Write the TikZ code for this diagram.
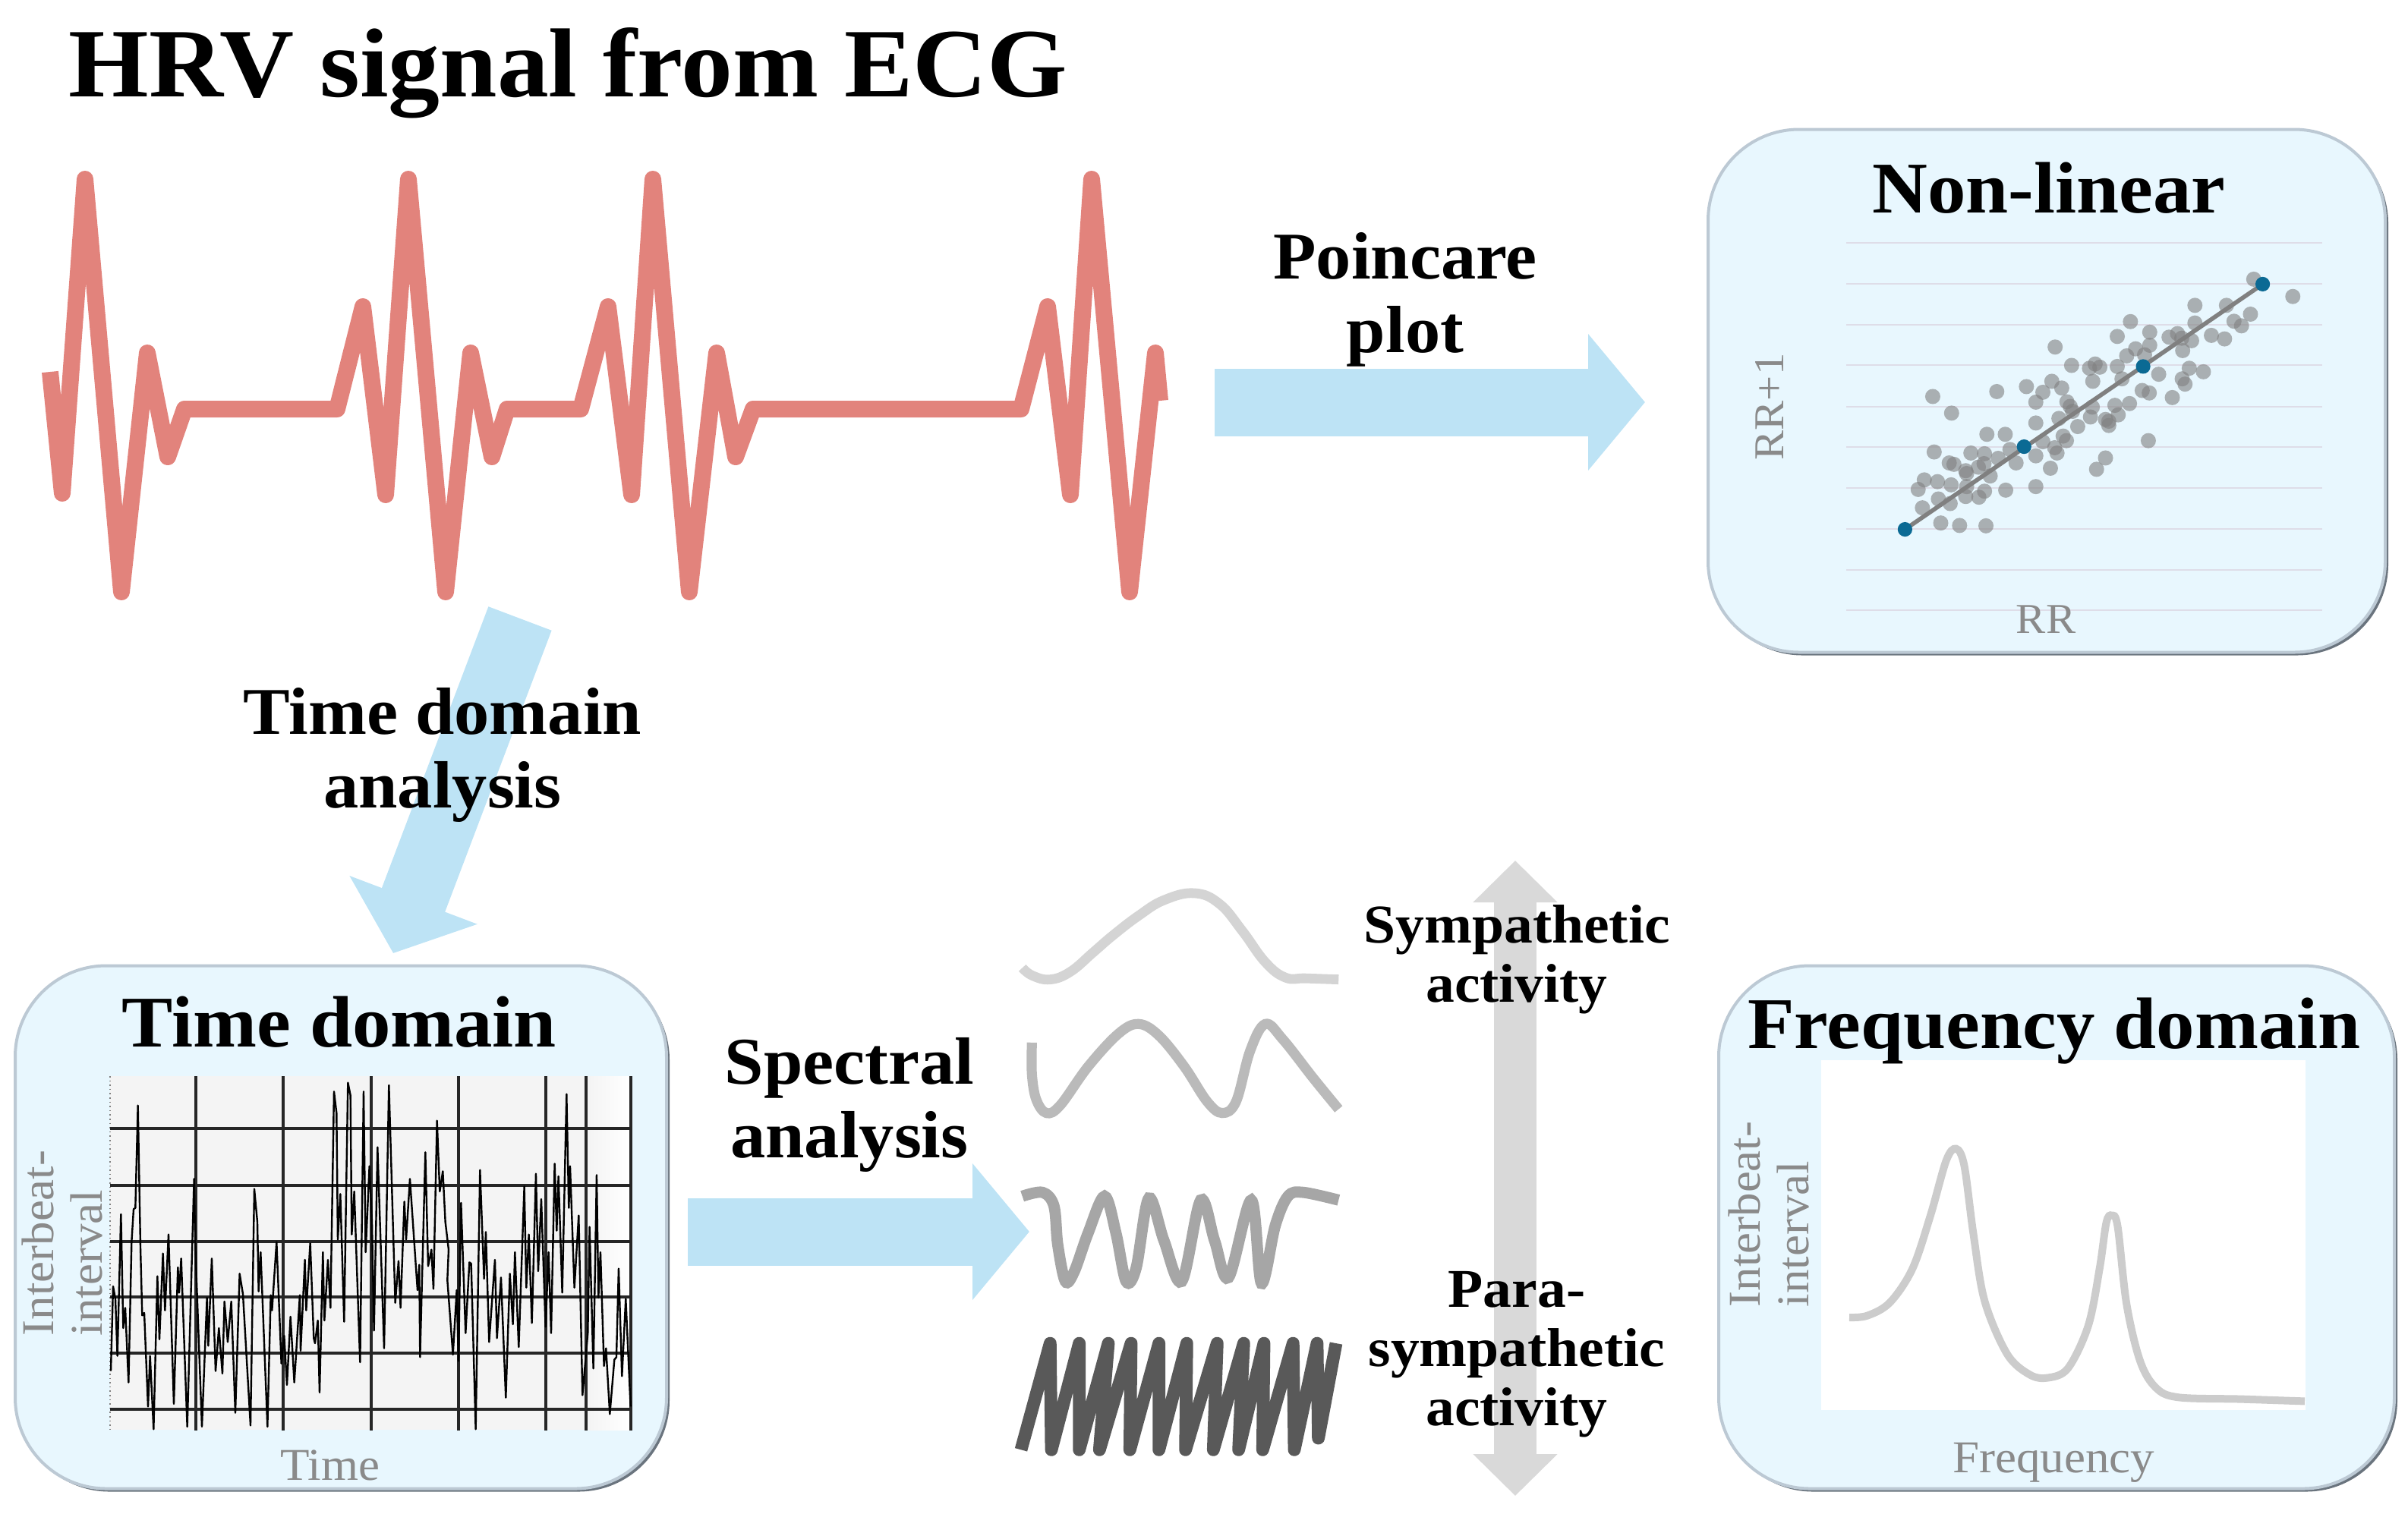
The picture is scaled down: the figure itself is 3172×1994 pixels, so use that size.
\documentclass[tikz,border=0pt]{standalone}
\usepackage{fontspec}
\setmainfont{Liberation Serif}[FakeStretch=1.05]
\usetikzlibrary{arrows.meta,shadows}

\definecolor{panelblue}{HTML}{E8F7FE}
\definecolor{panelrim}{HTML}{BCC9D4}
\definecolor{paneldark}{HTML}{6A747E}
\definecolor{flowblue}{HTML}{BDE3F5}
\definecolor{ecgred}{HTML}{E2837C}
\definecolor{axisgrey}{HTML}{8A8A8A}
\definecolor{plotgrey}{HTML}{F4F4F4}
\definecolor{rulelilac}{HTML}{DEDDE8}
\definecolor{dotblue}{HTML}{0B6A94}
\pgfdeclareverticalshading{panelbevel}{100bp}{color(0bp)=(panelblue); color(96.5bp)=(panelblue); color(100bp)=(white)}

\tikzset{
	panel/.style={rectangle,rounded corners=30pt,shade,shading=panelbevel,draw=panelrim,line width=1pt,
		minimum height=172.25pt,general shadow={fill=paneldark,shadow xshift=1pt,shadow yshift=-1pt}},
	heading/.style={font=\fontsize{24}{26}\selectfont\bfseries,anchor=base,inner sep=0pt},
	flowlabel/.style={font=\fontsize{22}{24.25}\selectfont\bfseries,align=center,inner sep=0pt},
	activity/.style={font=\fontsize{18}{19.5}\selectfont\bfseries,align=center,inner sep=0pt},
	axislabel/.style={font=\fontsize{15}{16}\selectfont,text=axisgrey,inner sep=0pt},
	flow/.style={flowblue,line width=22.25pt,-{Triangle[length=18.75pt,width=44pt]}},
	gridrule/.style={black!85,line width=0.8pt},
	dot/.style={fill=gray,opacity=0.6},
}

\begin{document}
\begin{tikzpicture}[x=0.25pt,y=-0.25pt]
	\useasboundingbox (0,0) rectangle (3172,1994);

	\node[font=\fontsize{32.3}{34}\selectfont\bfseries,anchor=base west,inner sep=0pt] (title) at (90,127) {HRV signal from ECG};

	% ECG trace
	\draw[ecgred,line width=5.5pt,line join=round]
		(66,490)--(82,650)--(112,236)--(160,780)--(194,465)--(221,602)--(243,539)--(444,539)
		--(478,404)--(508,652)--(538,236)--(587,780)--(620,465)--(648,602)--(668,539)--(765,539)
		--(801,404)--(832,652)--(860,236)--(908,780)--(944,465)--(969,602)--(992,539)--(1345,539)
		--(1380,404)--(1410,652)--(1438,236)--(1488,780)--(1522,465)--(1528,528);

	% panels
	\node[panel,minimum width=223pt] (nonlinear) at (2696,515) {};
	\node[panel,minimum width=214.5pt] (timedomain) at (449,1617) {};
	\node[panel,minimum width=222.5pt] (freqdomain) at (2709,1617) {};

	% flow arrows
	\coordinate (poincareStart) at (1600,530);
	\coordinate (poincareEnd) at (2167,530);
	\coordinate (timeStart) at (685,815);
	\coordinate (timeEnd) at (518,1256);
	\coordinate (spectralStart) at (906,1623);
	\coordinate (spectralEnd) at (1356,1623);
	\coordinate (activityTop) at (1996,1134);
	\coordinate (activityBottom) at (1996,1971);
	\draw[flow] (poincareStart) -- (poincareEnd);
	\draw[flow] (timeStart) -- (timeEnd);
	\draw[flow] (spectralStart) -- (spectralEnd);
	\draw[black!15,line width=14pt,{Triangle[length=13.75pt,width=27pt]}-{Triangle[length=13.75pt,width=27pt]}] (activityTop) -- (activityBottom);

	\node[flowlabel] (poincare) at (1851,395) {Poincare\\plot};
	\node[flowlabel] (timeanalysis) at (583,995) {Time domain\\analysis};
	\node[flowlabel] (spectral) at (1119,1456) {Spectral\\analysis};
	\node[activity] (sympathetic) at (1998,1264) {Sympathetic\\activity};
	\node[activity] (parasympathetic) at (1998,1785) {Para-\\sympathetic\\activity};

	% scatter plot
	\foreach \yy in {320,374,428,481,536,589,643,697,751,804}
		\draw[rulelilac,line width=0.6pt] (2432,\yy) -- (3059,\yy);
	\begin{scope}[shift={(2200,150)},x=0.155pt,y=-0.1164pt]
		\foreach \xx/\yy in {558/800,598/847,694/786,757/772,792/788,818/660,853/712,832/776,811/757,777/816,843/815,850/828,855/842,826/862,777/875,866/885,673/907,712/907,561/957,639/960,668/962,722/950,697/975,735/988,777/968,792/928,835/912,842/925,817/945,822/960,808/1003,777/1055,713/1065,593/988,603/992,628/1010,630/1018,655/1000,667/990,680/1025,540/1036,527/1063,568/1041,597/1050,630/1055,668/1068,656/1085,628/1083,570/1090,595/1103,536/1115,575/1158,615/1165,671/1166,906/1006,925/974,1016/925,932/870,932/882,925/865,893/858,897/830,945/825,952/852,976/820,960/750,898/757,891/720,903/708,913/717,950/715,970/685,989/665,1019/655,1019/618,950/630,978/588,1008/682,1038/737,1003/783,1018/790,1067/803,1088/750,1094/765,1103/720,1133/730,1089/670,1108/642,1087/635,1078/622,1060/632,1115/592,1115/542,1150/627,1178/637,1198/587,1214/600,1233/567,1182/542,1240/468,1323/517}
			\fill[dot] (\xx,\yy) circle[radius=2.5pt];
		\coordinate (trendLow) at (499,1176);
		\coordinate (trendHigh) at (1259,482);
		\draw[black!50,line width=1.4pt] (trendLow) -- (trendHigh);
		\foreach \xx/\yy in {499/1176,752/942,1005/715,1259/482}
			\fill[dotblue] (\xx,\yy) circle[radius=2.4pt];
	\end{scope}

	% interbeat trace
	\fill[plotgrey] (145,1418) rectangle (775,1884);
	\shade[left color=plotgrey,right color=white] (775,1418) rectangle (831,1884);
	\draw[gray,densely dotted,line width=0.4pt] (145,1418) -- (145,1884);
	\foreach \xx in {258,373,489,604,719,772,831}
		\draw[gridrule] (\xx,1418) -- (\xx,1885);
	\foreach \yy in {1487,1562,1636,1709,1783,1857}
		\draw[gridrule] (145,\yy) -- (831,\yy);
	\begin{scope}[shift={(140,1410)},x=0.08333pt,y=-0.08333pt]
		\draw[black,line width=0.6pt,line join=round] (18,1190)--(27,855)--(36,905)--(44,1130)--(58,570)--(67,1020)--(75,940)--(88,1235)--(100,680)--(108,550)--(115,545)--(125,140)--(135,700)--(142,970)--(150,960)--(165,1330)--(173,1130)--(187,1420)--(202,815)--(210,1065)--(224,725)--(232,950)--(246,650)--(267,1320)--(283,780)--(288,880)--(296,745)--(320,1410)--(347,430)--(352,700)--(378,1410)--(398,900)--(403,1090)--(417,745)--(432,1190)--(445,1020)--(459,1200)--(467,915)--(480,1075)--(494,915)--(510,1355)--(527,805)--(540,885)--(570,1405)--(585,470)--(597,600)--(602,875)--(610,720)--(637,1410)--(650,890)--(655,950)--(673,680)--(692,1160)--(703,1050)--(714,1245)--(728,975)--(743,1235)--(765,890)--(768,1110)--(785,750)--(790,950)--(806,685)--(820,1060)--(825,1080)--(836,990)--(843,1275)--(856,720)--(862,990)--(876,750)--(886,940)--(900,85)--(910,170)--(915,670)--(925,490)--(940,995)--(955,50)--(965,100)--(970,650)--(980,480)--(1003,1155)--(1017,85)--(1025,720)--(1040,380)--(1050,600)
		--(1058,1030)--(1072,305)--(1098,1100)--(1117,60)--(1142,920)--(1155,755)--(1163,940)--(1178,520)--(1185,670)--(1200,430)--(1230,870)--(1237,770)--(1240,1135)--(1261,325)--(1272,775)--(1285,710)--(1293,865)--(1307,200)--(1318,480)--(1330,400)--(1340,600)--(1353,710)--(1348,830)--(1370,1125)--(1385,870)--(1392,1150)--(1402,525)--(1420,1040)--(1435,760)--(1442,765)--(1460,1420)--(1477,395)--(1493,825)--(1500,640)--(1513,1075)--(1536,750)--(1544,1060)--(1560,820)--(1579,1295)--(1595,805)--(1607,1005)--(1615,720)--(1630,1095)--(1652,460)--(1660,860)--(1670,650)--(1682,1000)--(1698,410)--(1707,795)--(1719,510)--(1736,1015)--(1748,720)--(1758,1040)--(1772,370)--(1780,635)--(1787,420)--(1802,880)--(1819,95)--(1828,545)--(1833,380)--(1850,860)--(1867,575)--(1882,1285)--(1903,1040)--(1910,620)--(1925,1180)--(1938,415)--(1945,900)--(1953,720)--(1967,1170)--(1975,1100)--(1990,1360)--(2008,1145)--(2016,1135)--(2025,785)--(2038,1210)--(2053,905)--(2072,1330);
	\end{scope}

	% frequency plot
	\fill[white] (2399,1397) rectangle (3037,1858);
	\begin{scope}[shift={(2240,1260)},x=0.1485pt,y=-0.117pt]
		\draw[black!20,line width=2.5pt] plot[smooth,tension=0.55] coordinates {(330,1017) (370,1012) (420,975) (470,880) (510,730) (545,575) (567,542) (585,590) (605,780) (630,970) (680,1120) (730,1178) (770,1187) (815,1160) (860,1040) (885,880) (900,750) (912,730) (925,760) (945,980) (975,1140) (1010,1215) (1060,1242) (1200,1247) (1340,1253)};
	\end{scope}

	% activity waves
	\begin{scope}[shift={(1300,1130)},x=0.08333pt,y=-0.1275pt]
		\draw[black!17,line width=3.2pt] plot[smooth,tension=0.7] coordinates {(140,285) (180,305) (250,315) (330,295) (420,245) (500,200) (600,150) (700,110) (820,92) (920,120) (1010,190) (1100,270) (1180,310) (1260,312) (1390,315)};
		\draw[black!27,line width=3.3pt] plot[smooth,tension=0.6] coordinates {(178,478) (178,560) (195,625) (235,660) (290,640) (400,540) (520,455) (600,430) (680,460) (780,540) (870,630) (930,660) (985,630) (1040,500) (1100,430) (1170,470) (1290,570) (1390,650)};
		\draw[black!35,line width=3.7pt] plot[smooth,tension=0.55] coordinates {(140,875) (220,865) (265,900) (280,1000) (310,1095) (345,1070) (400,970) (465,875) (510,970) (550,1095) (590,1060) (640,880) (700,990) (770,1095) (845,885) (900,990) (955,1085) (1045,885) (1085,1100) (1140,950) (1190,875) (1250,865) (1390,885)};
		\draw[black!65,line width=4.2pt,line join=round] (135,1530)--(250,1255)--(255,1530)--(365,1255)--(365,1530)--(480,1255)--(445,1530)--(570,1255)--(565,1530)--(680,1255)--(680,1530)--(790,1255)--(785,1530)--(910,1255)--(895,1530)--(1015,1255)--(995,1530)--(1095,1255)--(1090,1530)--(1210,1255)--(1215,1530)--(1305,1255)--(1310,1500)--(1380,1255);
	\end{scope}

	% panel texts
	\node[heading] (nonlineartitle) at (2699,280) {Non-linear};
	\node[heading] (timetitle) at (447,1379) {Time domain};
	\node[heading] (freqtitle) at (2706,1381) {Frequency domain};
	\node[axislabel,font=\fontsize{14}{16}\selectfont] (rr) at (2695,816) {RR};
	\node[axislabel,font=\fontsize{14}{16}\selectfont,rotate=90] (rrnext) at (2331,536) {RR+1};
	\node[axislabel] (timelabel) at (435,1931) {Time};
	\node[axislabel] (freqlabel) at (2705,1927) {Frequency};
	\node[axislabel,rotate=90,align=left] (timeaxis) at (82,1638) {Interbeat-\\interval};
	\node[axislabel,rotate=90,align=left] (freqaxis) at (2330,1600) {Interbeat-\\interval};
\end{tikzpicture}
\end{document}
